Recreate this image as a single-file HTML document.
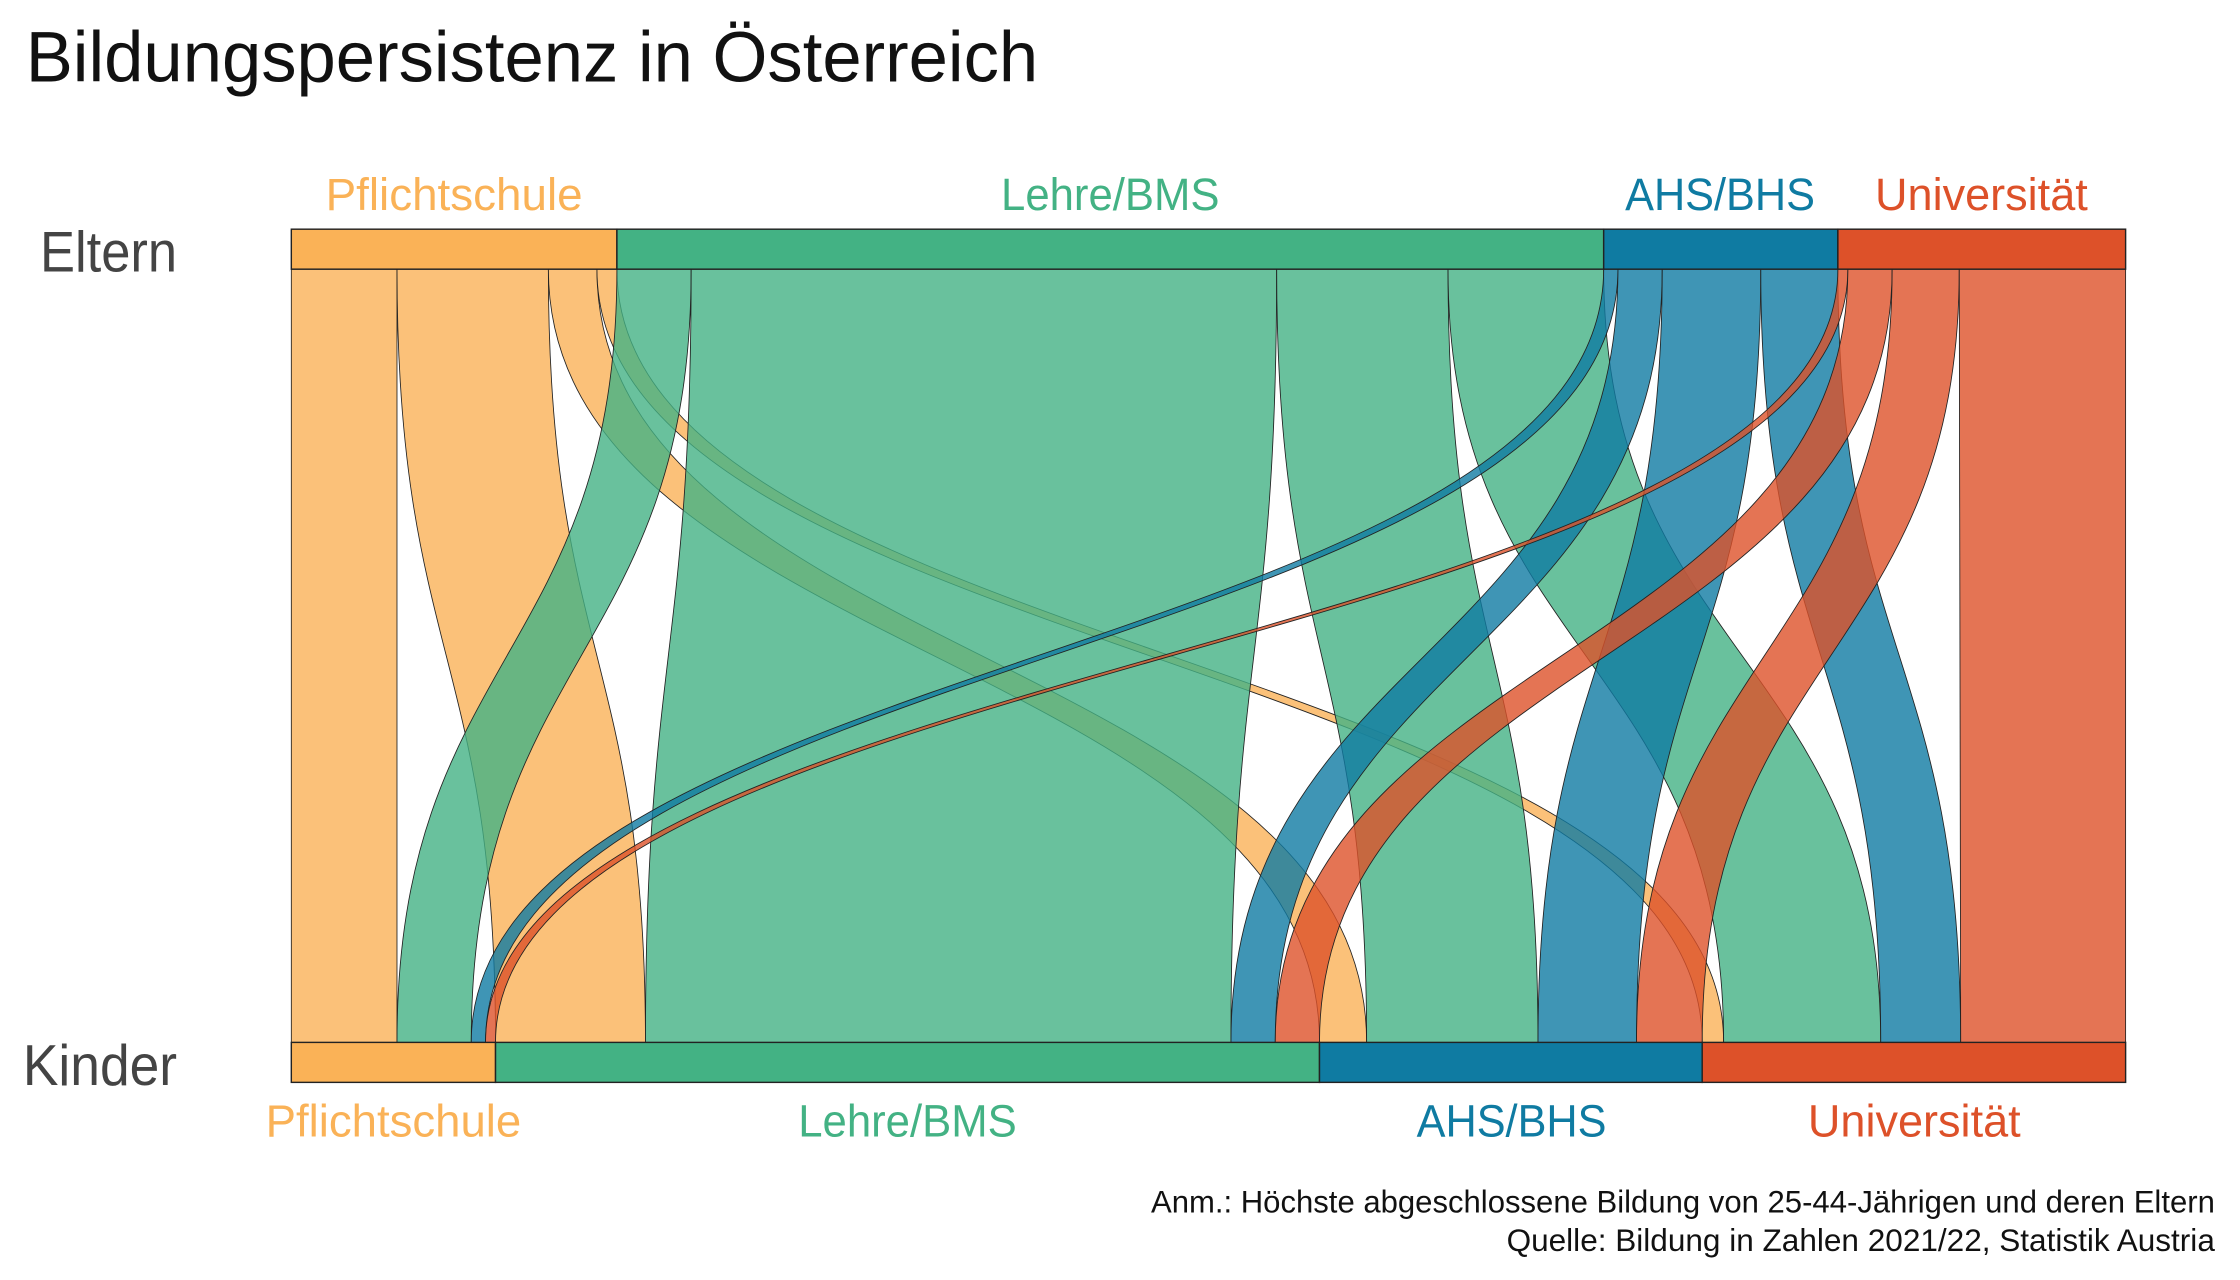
<!DOCTYPE html>
<html><head><meta charset="utf-8"><style>
html,body{margin:0;padding:0;background:#fff;}
svg{display:block;}
text{font-family:"Liberation Sans",sans-serif;}
</style></head><body>
<svg width="2240" height="1280" viewBox="0 0 1568.6 896.4" preserveAspectRatio="none" xmlns="http://www.w3.org/2000/svg">
<g id="flows" stroke="#222" stroke-width="0.6" fill-opacity="0.8"></g>
<g stroke="#222" stroke-width="1">
<rect x="204" y="160.5" width="228" height="28" fill="#FAB257"/>
<rect x="432" y="160.5" width="691" height="28" fill="#43B284"/>
<rect x="1123" y="160.5" width="164" height="28" fill="#0F7BA2"/>
<rect x="1287" y="160.5" width="201.5" height="28" fill="#DD5129"/>
<rect x="204" y="730" width="143" height="28" fill="#FAB257"/>
<rect x="347" y="730" width="577" height="28" fill="#43B284"/>
<rect x="924" y="730" width="268" height="28" fill="#0F7BA2"/>
<rect x="1192" y="730" width="296.5" height="28" fill="#DD5129"/>
</g>
<text x="18" y="57" font-size="50" fill="#111" textLength="709" lengthAdjust="spacingAndGlyphs">Bildungspersistenz in Österreich</text>
<text x="28" y="190" font-size="40" fill="#444" textLength="96" lengthAdjust="spacingAndGlyphs">Eltern</text>
<text x="16" y="760" font-size="40" fill="#444" textLength="108" lengthAdjust="spacingAndGlyphs">Kinder</text>
<g font-size="32">
<text x="228" y="147" fill="#FAB257" textLength="180" lengthAdjust="spacingAndGlyphs">Pflichtschule</text>
<text x="701" y="147" fill="#43B284" textLength="153" lengthAdjust="spacingAndGlyphs">Lehre/BMS</text>
<text x="1138" y="147" fill="#0F7BA2" textLength="133" lengthAdjust="spacingAndGlyphs">AHS/BHS</text>
<text x="1313" y="147" fill="#DD5129" textLength="149" lengthAdjust="spacingAndGlyphs">Universität</text>
<text x="186" y="796" fill="#FAB257" textLength="179" lengthAdjust="spacingAndGlyphs">Pflichtschule</text>
<text x="559" y="796" fill="#43B284" textLength="153" lengthAdjust="spacingAndGlyphs">Lehre/BMS</text>
<text x="992" y="796" fill="#0F7BA2" textLength="133" lengthAdjust="spacingAndGlyphs">AHS/BHS</text>
<text x="1266" y="796" fill="#DD5129" textLength="149" lengthAdjust="spacingAndGlyphs">Universität</text>
</g>
<g font-size="22" fill="#111">
<text x="806" y="849" textLength="745" lengthAdjust="spacingAndGlyphs">Anm.: Höchste abgeschlossene Bildung von 25-44-Jährigen und deren Eltern</text>
<text x="1055" y="876" textLength="496" lengthAdjust="spacingAndGlyphs">Quelle: Bildung in Zahlen 2021/22, Statistik Austria</text>
</g>
</svg>
<script>
(function(){
var g=document.getElementById('flows');
var C={p:'#FAB257',l:'#43B284',a:'#0F7BA2',u:'#DD5129'};
var yt=188.5,yb=730,ym=(yt+yb)/2;
var F=[
['p',204,278,204,278],['p',278,384,347,452],['p',384,418,924,957],['p',418,432,1192,1207],
['l',432,484,278,330],['l',484,894,452,862],['l',894,1014,957,1077],['l',1014,1123,1207,1317],
['a',1123,1133,330,340],['a',1133,1164,862,893],['a',1164,1233,1077,1146],['a',1233,1287,1317,1373],
['u',1287,1294,340,347],['u',1294,1325,893,924],['u',1325,1372,1146,1192],['u',1372,1488.5,1373,1488.5]
];
var ns='http://www.w3.org/2000/svg';
F.forEach(function(f){
var p=document.createElementNS(ns,'path');
var d='M'+f[1]+','+yt+' C'+f[1]+','+ym+' '+f[3]+','+ym+' '+f[3]+','+yb+
' L'+f[4]+','+yb+' C'+f[4]+','+ym+' '+f[2]+','+ym+' '+f[2]+','+yt+' Z';
p.setAttribute('d',d);p.setAttribute('fill',C[f[0]]);
g.appendChild(p);
});
})();
</script>
</body></html>
